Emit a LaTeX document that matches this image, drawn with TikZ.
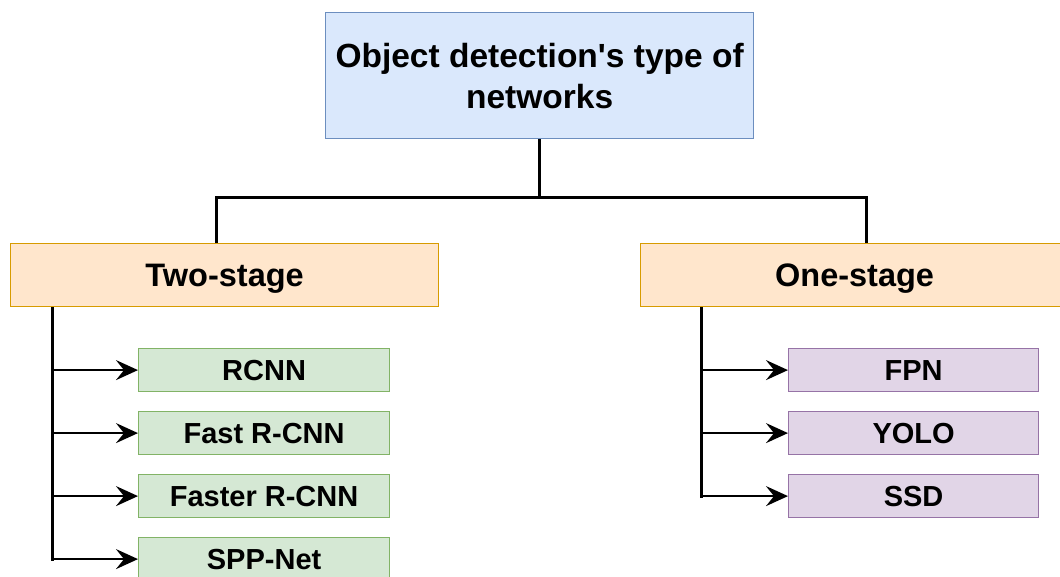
\documentclass[tikz,border=0pt]{standalone}
\usepackage{fontspec}
\setmainfont{Liberation Sans}[Ligatures=TeXOff]
\usetikzlibrary{arrows.meta}
\definecolor{bluefill}{HTML}{DAE8FC}
\definecolor{blueline}{HTML}{6C8EBF}
\definecolor{orangefill}{HTML}{FFE6CC}
\definecolor{orangeline}{HTML}{D79B00}
\definecolor{greenfill}{HTML}{D5E8D4}
\definecolor{greenline}{HTML}{82B366}
\definecolor{purplefill}{HTML}{E1D5E7}
\definecolor{purpleline}{HTML}{9673A6}
\tikzset{
  box/.style={draw, line width=1.2pt, inner sep=0pt, anchor=north west, font=\bfseries},
  rootbox/.style={box, fill=bluefill, draw=blueline, minimum width=428pt, minimum height=126pt,
    align=center, font=\bfseries\fontsize{33.5}{41}\selectfont},
  stagebox/.style={box, fill=orangefill, draw=orangeline, minimum width=428pt, minimum height=63pt,
    text depth=0pt, font=\bfseries\fontsize{32.5}{39}\selectfont},
  greenbox/.style={box, fill=greenfill, draw=greenline, minimum width=251pt, minimum height=43pt,
    font=\bfseries\fontsize{29}{35}\selectfont},
  purplebox/.style={box, fill=purplefill, draw=purpleline, minimum width=250pt, minimum height=43pt,
    font=\bfseries\fontsize{29}{35}\selectfont},
  trunk/.style={line width=3pt, line join=miter},
  branch/.style={line width=2pt, -{Stealth[length=22pt,width=20pt,inset=8pt]}},
}
\begin{document}
\begin{tikzpicture}[x=1pt, y=-1pt]
\useasboundingbox (0,0) rectangle (1060,576);

% root and the two families
\node[rootbox] (root) at (325,12) {Object detection's type of\\networks};
\node[stagebox] (two) at (10,243) {Two-stage};
\node[stagebox] (one) at (640,243) {One-stage};

% two-stage detectors
\node[greenbox] (rcnn)   at (138,348) {RCNN};
\node[greenbox] (fast)   at (138,411) {Fast R-CNN};
\node[greenbox] (faster) at (138,474) {Faster R-CNN};
\node[greenbox] (spp)    at (138,537) {SPP-Net};

% one-stage detectors
\node[purplebox] (fpn)  at (788,348) {FPN};
\node[purplebox] (yolo) at (788,411) {YOLO};
\node[purplebox] (ssd)  at (788,474) {SSD};

% tree from the root to the families
\coordinate (busL) at (216,197);
\coordinate (busR) at (866,197);
\draw[trunk] (root.south) -- (root.south |- busL);
\draw[trunk] (busL |- two.north) -- (busL) -- (busR) -- (busR |- one.north);

% two-stage branch
\coordinate (tx) at (52,0);
\draw[trunk] (tx |- two.south) -- (tx |- spp.west) -- ++(2,0);
\foreach \n in {rcnn,fast,faster,spp}
  \draw[branch] (tx |- \n.west) -- (\n.west);

% one-stage branch
\coordinate (ox) at (701,0);
\draw[trunk] (ox |- one.south) -- (ox |- ssd.west) -- ++(2,0);
\foreach \n in {fpn,yolo,ssd}
  \draw[branch] (ox |- \n.west) -- (\n.west);
\end{tikzpicture}
\end{document}
